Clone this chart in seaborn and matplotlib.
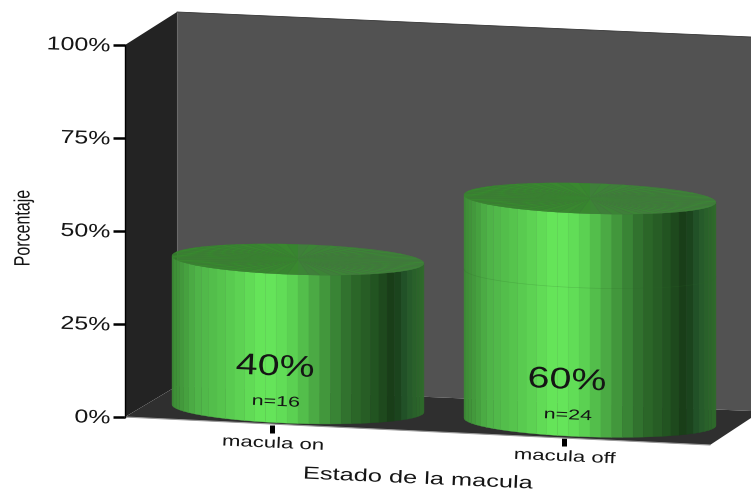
import numpy as np
import pandas as pd
import matplotlib
matplotlib.use("Agg")
import matplotlib.pyplot as plt
from matplotlib.colors import LinearSegmentedColormap
from matplotlib.patheffects import AbstractPathEffect
from matplotlib.transforms import Affine2D
import seaborn as sns

# ---- data
categories = ["macula on", "macula off"]
percentages = [40, 60]
counts = [16, 24]
y_ticks = [0, 25, 50, 75, 100]
y_tick_labels = ["0%", "25%", "50%", "75%", "100%"]
x_title = "Estado de la macula"
y_title = "Porcentaje"

# ---- style
sns.set_style("white")
plt.rcParams["font.family"] = ["Liberation Sans", "DejaVu Sans"]
W, H = 751, 490
AX_L, AX_R, AX_T, AX_B = 125, 751, 45, 417   # pixel frame of the front plane
CAT0_PX, CAT_STEP_PX = 298, 292              # category centres on screen
PX_X = 1 / CAT_STEP_PX
PX_Y = 100 / (AX_B - AX_T)
TEXT = "#151515"

shade = LinearSegmentedColormap.from_list("cyl", [
    (0.00, "#3c8a35"), (0.10, "#4fb448"), (0.21, "#57c64e"), (0.37, "#67e85b"),
    (0.46, "#5fd955"), (0.57, "#4aa843"), (0.70, "#2f6e2c"), (0.83, "#1f4d1e"),
    (0.88, "#173a16"), (0.93, "#23562a"), (1.00, "#2f6c2a")])


class Stretch(AbstractPathEffect):
    """Widen or narrow glyphs along the text direction (the source font is stretched)."""
    def __init__(self, sx, anchor="center"):
        super().__init__()
        self.sx, self.anchor = sx, anchor

    def draw_path(self, renderer, gc, tpath, affine, rgbFace=None):
        ext = tpath.get_extents()
        a = ext.x1 if self.anchor == "right" else (ext.x0 + ext.x1) / 2
        t = Affine2D().translate(-a, 0).scale(self.sx, 1).translate(a, 0)
        renderer.draw_path(gc, tpath, t + affine, rgbFace)


fig = plt.figure(figsize=(W / 100, H / 100), dpi=100, facecolor="white")
ax = fig.add_axes([AX_L / W, (H - AX_B) / H, (AX_R - AX_L) / W, (AX_B - AX_T) / H])
ax.patch.set_visible(False)

df = pd.DataFrame({"estado": categories, "porcentaje": percentages})
sns.barplot(data=df, x="estado", y="porcentaje", ax=ax, width=252 / CAT_STEP_PX,
            color="#67e85b", errorbar=None)
bars = list(ax.containers[0])
for b in bars:
    b.set_visible(False)

ax.set_xlim((AX_L - CAT0_PX) * PX_X, (AX_R - CAT0_PX) * PX_X)
ax.set_ylim(0, 100)


def X(px):
    return (px - CAT0_PX) * PX_X


def Y(px):
    return (AX_B - px) * PX_Y


# ---- box: side wall, back wall, floor
BACK_L = 177
ax.fill([X(AX_L), X(BACK_L), X(BACK_L), X(AX_L)], [Y(45), Y(12), Y(386), Y(417)],
        color="#232323", lw=0, clip_on=False, zorder=1)
ax.fill([X(BACK_L), X(751), X(751), X(BACK_L)], [Y(12), Y(37), Y(411), Y(386)],
        color="#525252", lw=0, clip_on=False, zorder=1)
ax.fill([X(AX_L), X(BACK_L), X(751), X(751), X(710)], [Y(417), Y(386), Y(411), Y(418), Y(445)],
        color="#2f2f2f", lw=0, clip_on=False, zorder=1.1)
ax.plot([X(BACK_L)] * 2, [Y(12), Y(386)], color="#6a6a6a", lw=0.8, clip_on=False, zorder=1.2)
ax.plot([X(BACK_L), X(751)], [Y(12), Y(37)], color="#333333", lw=0.6, clip_on=False, zorder=1.2)
ax.plot([X(AX_L), X(710)], [Y(417), Y(445)], color="#9a9a9a", lw=0.8, clip_on=False, zorder=1.2)

# ---- cylinders, built from the bars seaborn laid out
N_STRIPS = 36
MINOR_PX = 15.2
TILT = 0.03
DROP0, DROP_STEP = 6.8, 13.4      # front edge of the floor below the frame, at each category
DEPTH_UP = 15.5
phi = np.linspace(0, np.pi, N_STRIPS + 1)[::-1]  # left (pi) -> right (0)

for i, bar in enumerate(bars):
    cx = bar.get_x() + bar.get_width() / 2
    rx = bar.get_width() / 2
    rx_px = rx / PX_X
    base = -(DROP0 + DROP_STEP * i - DEPTH_UP) * PX_Y
    top = base + bar.get_height()

    def ell(a, level):
        return (cx + rx * np.cos(a),
                level - (MINOR_PX * np.sin(a) + TILT * rx_px * np.cos(a)) * PX_Y)

    for a0, a1 in zip(phi[:-1], phi[1:]):
        x0, yb0 = ell(a0, base)
        x1, yb1 = ell(a1, base)
        _, yt0 = ell(a0, top)
        _, yt1 = ell(a1, top)
        u = ((x0 + x1) / 2 - (cx - rx)) / (2 * rx)
        c = shade(u)
        ax.fill([x0, x1, x1, x0], [yb0, yb1, yt1, yt0], facecolor=c, edgecolor=c, lw=0.25,
                clip_on=False, zorder=2 + i)
    # lid: a fan of sectors
    fan = np.linspace(0, 2 * np.pi, 73)
    for k, (a0, a1) in enumerate(zip(fan[:-1], fan[1:])):
        xa, ya = ell(a0, top)
        xb, yb = ell(a1, top)
        mid = np.cos((a0 + a1) / 2)
        col = "#3f7f3a" if mid > 0 else "#39882f"
        if k % 2:
            col = "#3c8436" if mid > 0 else "#37852f"
        ax.fill([cx, xa, xb], [top, ya, yb], facecolor=col, edgecolor=col, lw=0.15,
                clip_on=False, zorder=2.5 + i)
    # faint seam where the earlier level sits on the taller cylinder
    if bar.get_height() > percentages[0]:
        xs, ys = ell(phi, base + percentages[0])
        ax.plot(xs, ys, color="#2c6a28", lw=0.5, alpha=0.22, clip_on=False, zorder=2.6 + i)

    ax.text(cx - 23 * PX_X, base + 41 * PX_Y, f"{percentages[i]}%", ha="center", va="center",
            fontsize=21.5, color=TEXT, rotation=-2.5, clip_on=False, zorder=5,
            path_effects=[Stretch(1.32)])
    ax.text(cx - 22 * PX_X, base + 6.5 * PX_Y, f"n={counts[i]}", ha="center", va="center",
            fontsize=10.3, color=TEXT, rotation=-2.5, clip_on=False, zorder=5,
            path_effects=[Stretch(1.5)])

# ---- axes furniture
for s in ["top", "right", "bottom"]:
    ax.spines[s].set_visible(False)
ax.spines["left"].set_color("#000000")
ax.spines["left"].set_linewidth(1.0)
ax.spines["left"].set_zorder(3)

ax.set_yticks(y_ticks, y_tick_labels)
ax.tick_params(axis="y", left=True, length=8.6, width=1.8, pad=2, labelsize=13.5, color="black",
               labelcolor=TEXT)
for lab in ax.get_yticklabels():
    lab.set_rotation(-2)
    lab.set_rotation_mode("anchor")
    lab.set_path_effects([Stretch(1.33, "right")])

ax.set_xticks(range(len(categories)), categories)
ax.tick_params(axis="x", bottom=True, length=5.8, width=3.6, pad=1.5, labelsize=11, color="black",
               labelcolor=TEXT)
for i, tick in enumerate(ax.xaxis.get_major_ticks()):
    dy = DROP0 + 1.2 + DROP_STEP * i
    tick.tick1line.set_transform(tick.tick1line.get_transform() + Affine2D().translate(-26, -dy))
    tick.label1.set_transform(tick.label1.get_transform() + Affine2D().translate(-25, -dy))
    tick.label1.set_rotation(-2.5)
    tick.label1.set_path_effects([Stretch(1.45)])

ax.set_xlabel(x_title, fontsize=12.6, color=TEXT, rotation=-2.5, va="center", ha="center",
              path_effects=[Stretch(1.45)])
ax.xaxis.set_label_coords((418 - AX_L) / (AX_R - AX_L), (AX_B - 479) / (AX_B - AX_T))
ax.set_ylabel(y_title, fontsize=16, color=TEXT, rotation=90, va="center", ha="center",
              path_effects=[Stretch(0.72)])
ax.yaxis.set_label_coords((24 - AX_L) / (AX_R - AX_L), (AX_B - 228) / (AX_B - AX_T))

fig.savefig("out.png", dpi=100)
